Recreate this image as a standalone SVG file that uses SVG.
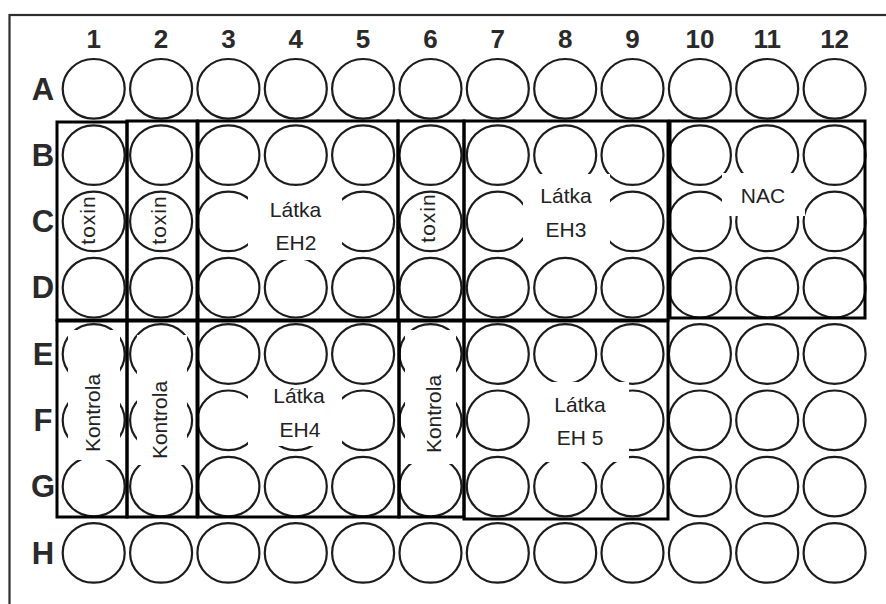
<svg xmlns="http://www.w3.org/2000/svg" xmlns:xlink="http://www.w3.org/1999/xlink" width="886" height="604" viewBox="0 0 886 604">
<style>
.well{fill:none;stroke:#1c1c1c;stroke-width:2.2}
.box{fill:none;stroke:#000;stroke-width:3}
.mask{fill:#fff;stroke:none}
.hdr{font-family:"Liberation Sans",Arial,sans-serif;font-weight:bold;fill:#2a2a2a;text-anchor:middle}
.col{font-size:26px}
.row{font-size:31px}
.lbl{font-family:"Liberation Sans",Arial,sans-serif;font-size:21px;fill:#222;text-anchor:middle}
</style>
<defs>
<ellipse id="w" cx="0" cy="0" rx="31" ry="29.8" class="well"/>
</defs>
<rect id="frame" x="9.5" y="15" width="900" height="700" fill="#fff" stroke="#2e2e2e" stroke-width="2.2"/>
<g id="headers">
<text class="hdr col" x="93.7" y="48">1</text>
<text class="hdr col" x="161.1" y="48">2</text>
<text class="hdr col" x="228.4" y="48">3</text>
<text class="hdr col" x="295.8" y="48">4</text>
<text class="hdr col" x="363.1" y="48">5</text>
<text class="hdr col" x="430.5" y="48">6</text>
<text class="hdr col" x="497.8" y="48">7</text>
<text class="hdr col" x="565.2" y="48">8</text>
<text class="hdr col" x="632.5" y="48">9</text>
<text class="hdr col" x="699.9" y="48">10</text>
<text class="hdr col" x="767.2" y="48">11</text>
<text class="hdr col" x="834.6" y="48">12</text>
<text class="hdr row" x="43" y="99.5">A</text>
<text class="hdr row" x="43" y="165.8">B</text>
<text class="hdr row" x="43" y="232.1">C</text>
<text class="hdr row" x="43" y="298.4">D</text>
<text class="hdr row" x="43" y="364.7">E</text>
<text class="hdr row" x="43" y="431">F</text>
<text class="hdr row" x="43" y="497.3">G</text>
<text class="hdr row" x="43" y="563.6">H</text>
</g>
<g id="wells">
<use href="#w" x="93.7" y="88.8"/><use href="#w" x="161.1" y="88.8"/><use href="#w" x="228.4" y="88.8"/><use href="#w" x="295.8" y="88.8"/><use href="#w" x="363.1" y="88.8"/><use href="#w" x="430.5" y="88.8"/><use href="#w" x="497.8" y="88.8"/><use href="#w" x="565.2" y="88.8"/><use href="#w" x="632.5" y="88.8"/><use href="#w" x="699.9" y="88.8"/><use href="#w" x="767.2" y="88.8"/><use href="#w" x="834.6" y="88.8"/>
<use href="#w" x="93.7" y="155.1"/><use href="#w" x="161.1" y="155.1"/><use href="#w" x="228.4" y="155.1"/><use href="#w" x="295.8" y="155.1"/><use href="#w" x="363.1" y="155.1"/><use href="#w" x="430.5" y="155.1"/><use href="#w" x="497.8" y="155.1"/><use href="#w" x="565.2" y="155.1"/><use href="#w" x="632.5" y="155.1"/><use href="#w" x="699.9" y="155.1"/><use href="#w" x="767.2" y="155.1"/><use href="#w" x="834.6" y="155.1"/>
<use href="#w" x="93.7" y="221.4"/><use href="#w" x="161.1" y="221.4"/><use href="#w" x="228.4" y="221.4"/><use href="#w" x="295.8" y="221.4"/><use href="#w" x="363.1" y="221.4"/><use href="#w" x="430.5" y="221.4"/><use href="#w" x="497.8" y="221.4"/><use href="#w" x="565.2" y="221.4"/><use href="#w" x="632.5" y="221.4"/><use href="#w" x="699.9" y="221.4"/><use href="#w" x="767.2" y="221.4"/><use href="#w" x="834.6" y="221.4"/>
<use href="#w" x="93.7" y="287.7"/><use href="#w" x="161.1" y="287.7"/><use href="#w" x="228.4" y="287.7"/><use href="#w" x="295.8" y="287.7"/><use href="#w" x="363.1" y="287.7"/><use href="#w" x="430.5" y="287.7"/><use href="#w" x="497.8" y="287.7"/><use href="#w" x="565.2" y="287.7"/><use href="#w" x="632.5" y="287.7"/><use href="#w" x="699.9" y="287.7"/><use href="#w" x="767.2" y="287.7"/><use href="#w" x="834.6" y="287.7"/>
<use href="#w" x="93.7" y="354"/><use href="#w" x="161.1" y="354"/><use href="#w" x="228.4" y="354"/><use href="#w" x="295.8" y="354"/><use href="#w" x="363.1" y="354"/><use href="#w" x="430.5" y="354"/><use href="#w" x="497.8" y="354"/><use href="#w" x="565.2" y="354"/><use href="#w" x="632.5" y="354"/><use href="#w" x="699.9" y="354"/><use href="#w" x="767.2" y="354"/><use href="#w" x="834.6" y="354"/>
<use href="#w" x="93.7" y="420.3"/><use href="#w" x="161.1" y="420.3"/><use href="#w" x="228.4" y="420.3"/><use href="#w" x="295.8" y="420.3"/><use href="#w" x="363.1" y="420.3"/><use href="#w" x="430.5" y="420.3"/><use href="#w" x="497.8" y="420.3"/><use href="#w" x="565.2" y="420.3"/><use href="#w" x="632.5" y="420.3"/><use href="#w" x="699.9" y="420.3"/><use href="#w" x="767.2" y="420.3"/><use href="#w" x="834.6" y="420.3"/>
<use href="#w" x="93.7" y="486.6"/><use href="#w" x="161.1" y="486.6"/><use href="#w" x="228.4" y="486.6"/><use href="#w" x="295.8" y="486.6"/><use href="#w" x="363.1" y="486.6"/><use href="#w" x="430.5" y="486.6"/><use href="#w" x="497.8" y="486.6"/><use href="#w" x="565.2" y="486.6"/><use href="#w" x="632.5" y="486.6"/><use href="#w" x="699.9" y="486.6"/><use href="#w" x="767.2" y="486.6"/><use href="#w" x="834.6" y="486.6"/>
<use href="#w" x="93.7" y="552.9"/><use href="#w" x="161.1" y="552.9"/><use href="#w" x="228.4" y="552.9"/><use href="#w" x="295.8" y="552.9"/><use href="#w" x="363.1" y="552.9"/><use href="#w" x="430.5" y="552.9"/><use href="#w" x="497.8" y="552.9"/><use href="#w" x="565.2" y="552.9"/><use href="#w" x="632.5" y="552.9"/><use href="#w" x="699.9" y="552.9"/><use href="#w" x="767.2" y="552.9"/><use href="#w" x="834.6" y="552.9"/>
</g>
<g id="toxin1">
<rect class="box" x="57" y="122" width="70" height="198"/>
<text class="lbl" transform="translate(95,220) rotate(-90)" letter-spacing="1">toxin</text>
</g>
<g id="toxin2">
<rect class="box" x="127" y="121" width="70" height="199"/>
<text class="lbl" transform="translate(166,220) rotate(-90)" letter-spacing="1">toxin</text>
</g>
<g id="latka-eh2">
<rect class="mask" x="248" y="190" width="94" height="70"/>
<rect class="box" x="198" y="121" width="200" height="199"/>
<text class="lbl" x="295.5" y="217">Látka</text>
<text class="lbl" x="296" y="250">EH2</text>
</g>
<g id="toxin6">
<rect class="box" x="398" y="121" width="66" height="199"/>
<text class="lbl" transform="translate(435,218) rotate(-90)" letter-spacing="1">toxin</text>
</g>
<g id="latka-eh3">
<rect class="mask" x="523" y="174" width="87" height="81"/>
<rect class="box" x="464" y="121" width="204" height="199"/>
<text class="lbl" x="566" y="203">Látka</text>
<text class="lbl" x="566" y="237">EH3</text>
</g>
<g id="nac">
<rect class="mask" x="722" y="173" width="83" height="43"/>
<rect class="box" x="670" y="121" width="195" height="197"/>
<text class="lbl" x="763" y="203">NAC</text>
</g>
<g id="kontrola1">
<rect class="mask" x="68" y="330" width="52" height="130"/>
<rect class="box" x="57" y="321" width="70" height="196"/>
<text class="lbl" transform="translate(100,413) rotate(-90)">Kontrola</text>
</g>
<g id="kontrola2">
<rect class="mask" x="137" y="335" width="50" height="130"/>
<rect class="box" x="127" y="321" width="70" height="196"/>
<text class="lbl" transform="translate(167,420) rotate(-90)">Kontrola</text>
</g>
<g id="latka-eh4">
<rect class="mask" x="248" y="390" width="94" height="56"/>
<rect class="box" x="198" y="321" width="201" height="196"/>
<text class="lbl" x="299" y="403">Látka</text>
<text class="lbl" x="300" y="437">EH4</text>
</g>
<g id="kontrola6">
<rect class="mask" x="405" y="330" width="51" height="134"/>
<rect class="box" x="399" y="321" width="65" height="196"/>
<text class="lbl" transform="translate(441,414) rotate(-90)">Kontrola</text>
</g>
<g id="latka-eh5">
<rect class="mask" x="533" y="382" width="96" height="80"/>
<rect class="box" x="464" y="321" width="204" height="198"/>
<text class="lbl" x="580" y="412">Látka</text>
<text class="lbl" x="580" y="445">EH 5</text>
</g>
</svg>
